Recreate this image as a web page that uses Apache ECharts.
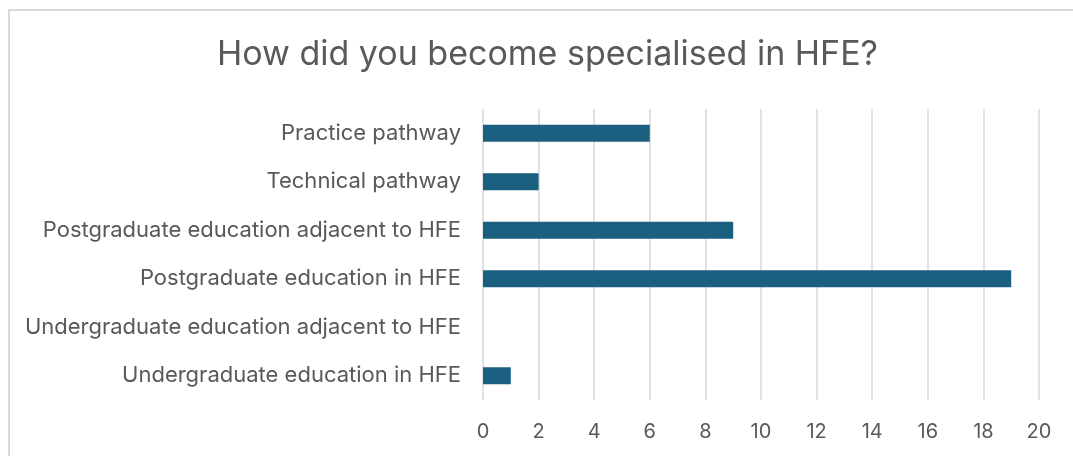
<!DOCTYPE html>
<html><head><meta charset="utf-8">
<script src="https://cdn.jsdelivr.net/npm/echarts@6/dist/echarts.min.js"></script>
<style>html,body{margin:0;padding:0;background:#fff}#c{width:1073px;height:456px}
#frame{position:absolute;left:8px;top:9px;width:1080px;height:460px;border:2px solid #d9d9d9;box-sizing:border-box;pointer-events:none}</style>
</head><body><div id="c"></div><div id="frame"></div>
<script>
const titleText = "How did you become specialised in HFE?";
const categories = [
  "Undergraduate education in HFE",
  "Undergraduate education adjacent to HFE",
  "Postgraduate education in HFE",
  "Postgraduate education adjacent to HFE",
  "Technical pathway",
  "Practice pathway"
];
const values = [1, 0, 19, 9, 2, 6];
const xTicks = { min: 0, max: 20, interval: 2 };

const chart = echarts.init(document.getElementById('c'), null, {renderer: 'canvas'});
const font = "Inter, sans-serif";
chart.setOption({
  animation: false,
  title: {
    text: titleText, left: 212, top: 33,
    textStyle: {fontFamily: font, fontSize: 34, fontWeight: 'normal', color: '#595959'}
  },
  grid: {left: 483, right: 34, top: 109, bottom: 56, containLabel: false},
  xAxis: {
    type: 'value', min: xTicks.min, max: xTicks.max, interval: xTicks.interval,
    axisLine: {show: false}, axisTick: {show: false},
    splitLine: {show: true, lineStyle: {color: '#d9d9d9', width: 1.5}},
    axisLabel: {fontFamily: font, fontSize: 20, color: '#595959', margin: 22}
  },
  yAxis: {
    type: 'category', data: categories,
    axisLine: {show: false}, axisTick: {show: false},
    axisLabel: {fontFamily: font, fontSize: 22, color: '#595959', margin: 22}
  },
  series: [{
    type: 'bar', data: values, barWidth: 17,
    itemStyle: {color: '#1a5f80'}
  }]
});
</script></body></html>
